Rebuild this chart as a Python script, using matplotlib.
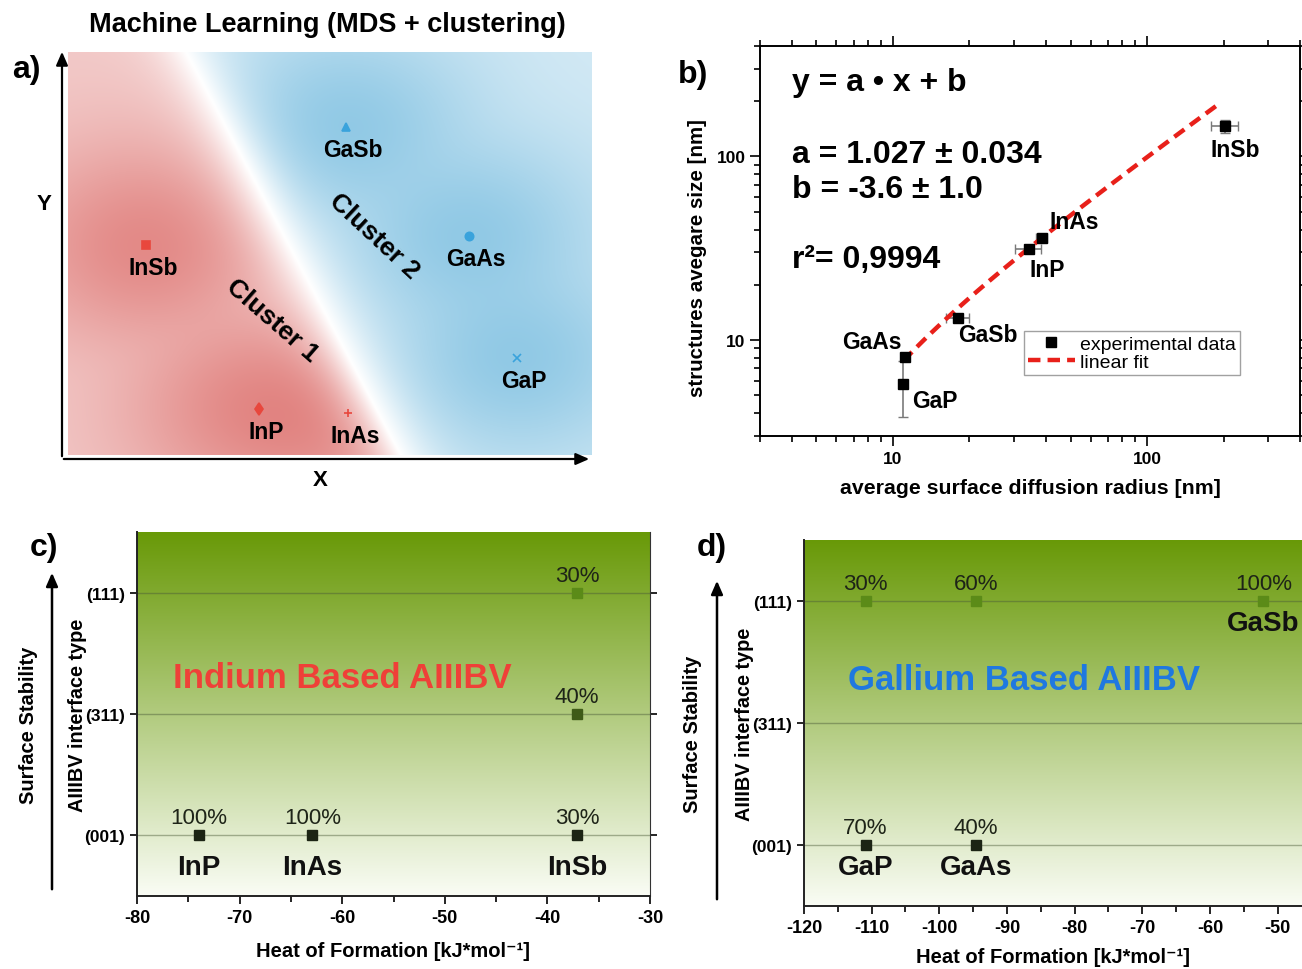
import numpy as np
import matplotlib
matplotlib.use("Agg")
from matplotlib import pyplot as plt
from matplotlib.ticker import FixedLocator, NullFormatter, MultipleLocator

plt.rcParams['font.family'] = ['Liberation Sans', 'DejaVu Sans']

# ---- panel a: MDS map
compounds = ["InSb", "InP", "InAs", "GaSb", "GaAs", "GaP"]
mds_x = [1.49, 3.65, 5.34, 5.31, 7.65, 8.57]
mds_y = [5.21, 1.14, 1.04, 8.14, 5.43, 2.41]
cluster = [1, 1, 1, 2, 2, 2]
mds_markers = ["s", "d", "+", "^", "o", "x"]
# linear decision boundary  x + w*y = c  (cluster 2 on the positive side)
boundary_w, boundary_c = 0.41, 6.35

# ---- panel b: size vs diffusion radius
b_names = ["GaP", "GaAs", "GaSb", "InP", "InAs", "InSb"]
diff_radius = [10.95, 11.15, 18.1, 34.2, 38.5, 203.0]
radius_err = [0.0, 0.0, 1.9, 3.9, 2.0, 25.0]
struct_size = [5.75, 8.07, 13.2, 31.4, 36.1, 146.0]
size_err = [1.95, 0.0, 0.0, 0.0, 0.0, 12.0]
fit_a, fit_b = 1.027, -3.6
fit_range = [11.0, 195.0]

# ---- panels c, d: interface type vs heat of formation
planes = ["(001)", "(311)", "(111)"]
in_names = ["InP", "InAs", "InSb"]
in_heat = [-74.0, -62.9, -37.1]
in_share = {"InP": [100, None, None], "InAs": [100, None, None], "InSb": [30, 40, 30]}
ga_names = ["GaP", "GaAs", "GaSb"]
ga_heat = [-110.9, -94.6, -52.1]
ga_share = {"GaP": [70, None, 30], "GaAs": [40, None, 60], "GaSb": [None, None, 100]}

W, H = 1302, 970
fig = plt.figure(figsize=(W / 100, H / 100), dpi=100)


def rect(x0, y0, x1, y1):
    # pixel box -> figure fraction rect
    return [x0 / W, 1 - y1 / H, (x1 - x0) / W, (y1 - y0) / H]


def fx(px):
    return px / W


def fy(py):
    return 1 - py / H


# ================= a) =================
ax_a = fig.add_axes(rect(68, 53, 592, 456))
gx, gy = np.meshgrid(np.linspace(0, 10, 400), np.linspace(0, 10, 400))
dec = gx + boundary_w * gy - boundary_c
mx = np.array(mds_x)
my = np.array(mds_y)
cl = np.array(cluster)


def density(sel, s=1.9, p=3.0):
    # smooth maximum of the gaussian kernels of one cluster
    k = np.zeros_like(gx)
    for x0, y0 in zip(mx[sel], my[sel]):
        k += np.exp(-((gx - x0) ** 2 + (gy - y0) ** 2) / (2 * s ** 2)) ** p
    return k ** (1 / p)


k_red = density(cl == 1)
k_blue = density(cl == 2)
edge = np.tanh(np.abs(dec) / 0.8)
red_full = np.array([0.89, 0.54, 0.53])
blue_full = np.array([0.57, 0.79, 0.90])
t_red = edge * (0.45 + 0.55 * k_red)
t_blue = edge * (0.40 + 0.60 * k_blue)
img = np.ones(gx.shape + (3,))
is_red = dec < 0
for c in range(3):
    img[..., c] = np.where(is_red, 1 - t_red * (1 - red_full[c]),
                           1 - t_blue * (1 - blue_full[c]))
ax_a.imshow(img, extent=(0, 10, 0, 10), origin="lower", aspect="auto",
            interpolation="bilinear")
for name, x, y, m, c in zip(compounds, mds_x, mds_y, mds_markers, cluster):
    col = "#e8473d" if c == 1 else "#3aa3dc"
    ax_a.plot(x, y, marker=m, color=col, markersize=6, mew=1.2, ls="none")
    ax_a.annotate(name, (x, y), xytext=(5, -16), textcoords="offset points",
                  ha="center", va="center", fontsize=16.5, fontweight="bold")
ax_a.text(3.9, 3.35, "Cluster 1", rotation=-41, ha="center", va="center",
          fontsize=19, fontweight="bold")
ax_a.text(5.85, 5.45, "Cluster 2", rotation=-43, ha="center", va="center",
          fontsize=19, fontweight="bold")
ax_a.set_xlim(0, 10)
ax_a.set_ylim(0, 10)
ax_a.axis("off")
fig.add_artist(matplotlib.patches.FancyArrowPatch(
    (fx(62), fy(460)), (fx(62), fy(50)), transform=fig.transFigure,
    arrowstyle="-|>,head_length=8,head_width=3.5", color="k", lw=1.6))
fig.add_artist(matplotlib.patches.FancyArrowPatch(
    (fx(61), fy(460)), (fx(592), fy(460)), transform=fig.transFigure,
    arrowstyle="-|>,head_length=8,head_width=3.5", color="k", lw=1.6))
fig.text(fx(44), fy(204), "Y", ha="center", va="center", fontsize=16, fontweight="bold")
fig.text(fx(320), fy(481), "X", ha="center", va="center", fontsize=16, fontweight="bold")
fig.text(fx(327), fy(25), "Machine Learning (MDS + clustering)", ha="center",
         va="center", fontsize=19.5, fontweight="bold")
fig.text(fx(26), fy(70), "a)", ha="center", va="center", fontsize=23, fontweight="bold")

# ================= b) =================
ax_b = fig.add_axes(rect(760, 47, 1300, 437))
ax_b.set_xscale("log")
ax_b.set_yscale("log")
ax_b.errorbar(diff_radius, struct_size, xerr=radius_err, yerr=size_err, fmt="none",
              ecolor="#7a7a7a", elinewidth=1.2, capsize=3.5, zorder=2)
ax_b.plot(diff_radius, struct_size, "s", color="k", markersize=6.5, zorder=4,
          label="experimental data")
fx_line = np.logspace(np.log10(fit_range[0]), np.log10(fit_range[1]), 100)
ax_b.plot(fx_line, fit_a * fx_line + fit_b, color="#e8201a", lw=3.2,
          dashes=(2.8, 1.6), zorder=3, label="linear fit")
b_offsets = {"GaP": (7, -12, "left"), "GaAs": (-2, 11, "right"), "GaSb": (0, -12, "left"),
             "InP": (1, -15, "left"), "InAs": (6, 12, "left"), "InSb": (7, -17, "center")}
for name, x, y in zip(b_names, diff_radius, struct_size):
    dx, dy, ha = b_offsets[name]
    ax_b.annotate(name, (x, y), xytext=(dx, dy), textcoords="offset points",
                  ha=ha, va="center", fontsize=16.5, fontweight="bold")
ax_b.set_xlim(3, 400)
ax_b.set_ylim(3, 400)
ax_b.tick_params(which="both", direction="out", top=True, right=True,
                 labelsize=12.5, width=1.2)
ax_b.tick_params(which="major", length=7)
ax_b.tick_params(which="minor", length=4)
ax_b.xaxis.set_major_locator(FixedLocator([10, 100]))
ax_b.yaxis.set_major_locator(FixedLocator([10, 100]))
ax_b.set_xticklabels(["10", "100"], fontweight="bold")
ax_b.set_yticklabels(["10", "100"], fontweight="bold")
ax_b.xaxis.set_minor_formatter(NullFormatter())
ax_b.yaxis.set_minor_formatter(NullFormatter())
for sp in ax_b.spines.values():
    sp.set_linewidth(1.4)
ax_b.set_xlabel("average surface diffusion radius [nm]", fontsize=15.3,
                fontweight="bold", labelpad=9)
ax_b.set_ylabel("structures avegare size [nm]", fontsize=14.8, fontweight="bold")
ax_b.yaxis.set_label_coords(-0.098, 0.46)
ax_b.text(0.059, 0.908, "y = a \u2022 x + b", transform=ax_b.transAxes, va="center",
          fontsize=23, fontweight="bold")
ax_b.text(0.059, 0.723, "a = 1.027 \u00b1 0.034", transform=ax_b.transAxes,
          va="center", fontsize=23, fontweight="bold")
ax_b.text(0.059, 0.633, "b = -3.6 \u00b1 1.0", transform=ax_b.transAxes,
          va="center", fontsize=23, fontweight="bold")
ax_b.text(0.059, 0.454, "r\u00b2= 0,9994", transform=ax_b.transAxes,
          va="center", fontsize=23, fontweight="bold")
leg = ax_b.legend(loc="lower left", bbox_to_anchor=(0.489, 0.156), fontsize=14,
                  frameon=True, fancybox=False, handlelength=2.4, borderpad=0.2,
                  labelspacing=0.05, handletextpad=0.3, borderaxespad=0)
leg.get_frame().set_edgecolor("#8a8a8a")
leg.get_frame().set_linewidth(1.0)
fig.text(fx(693), fy(75), "b)", ha="center", va="center", fontsize=23, fontweight="bold")

# ================= c), d) =================
row_colors = ["#1c2414", "#3f5b17", "#5b8b18"]


def stability_panel(box, names, heat, share, xlim, xticks, title, title_col,
                    title_pos, label_dy, arrow_x, letter_xy, show_right, xpad):
    ax = fig.add_axes(rect(*box))
    grad = np.linspace(0, 1, 256)[:, None]
    top = np.array([0.41, 0.60, 0.03])
    bot = np.array([0.98, 0.99, 0.96])
    col = bot[None, None, :] * (1 - grad[..., None]) + top[None, None, :] * grad[..., None]
    ax.imshow(col, extent=(0, 1, 0, 1), origin="lower", aspect="auto",
              transform=ax.transAxes, zorder=0)
    for k in range(len(planes)):
        ax.axhline(k, color="#4a5a38", lw=1.0, alpha=0.45, zorder=1)
    for name, x in zip(names, heat):
        for k, pct in enumerate(share[name]):
            if pct is None:
                continue
            ax.plot(x, k, "s", color=row_colors[k], markersize=7.5, zorder=3)
            ax.annotate(f"{pct}%", (x, k), xytext=(0, 12.5), textcoords="offset points",
                        ha="center", va="center", fontsize=16, color="#1e2418")
        k_low = min(k for k, p in enumerate(share[name]) if p is not None)
        ax.annotate(name, (x, k_low), xytext=(0, label_dy), textcoords="offset points",
                    ha="center", va="center", fontsize=20, fontweight="bold",
                    color="#111")
    ax.text(title_pos[0], title_pos[1], title, transform=ax.transAxes, ha="center",
            va="center", fontsize=25, fontweight="bold", color=title_col)
    ax.set_xlim(*xlim)
    ax.set_ylim(-0.5, 2.5)
    ax.set_xticks(xticks)
    ax.set_xticklabels([str(t) for t in xticks], fontweight="bold")
    ax.xaxis.set_minor_locator(MultipleLocator(5))
    ax.set_yticks(range(len(planes)))
    ax.set_yticklabels(planes, fontweight="bold", fontsize=12.5)
    ax.tick_params(axis="x", which="both", direction="out", labelsize=13, width=1.2)
    ax.tick_params(axis="x", which="major", length=6)
    ax.tick_params(axis="x", which="minor", length=4)
    ax.tick_params(axis="y", direction="out", length=5, width=1.2, right=show_right)
    for sp in ["left", "bottom"]:
        ax.spines[sp].set_linewidth(1.4)
        ax.spines[sp].set_color("#222")
    ax.spines["top"].set_visible(False)
    ax.spines["right"].set_visible(show_right)
    ax.spines["right"].set_color("#333")
    ax.set_xlabel("Heat of Formation [kJ*mol\u207b\u00b9]", fontsize=14.5,
                  fontweight="bold", labelpad=xpad)
    ax.set_ylabel("AIIIBV interface type", fontsize=14.3, fontweight="bold", labelpad=-2)
    fig.add_artist(matplotlib.patches.FancyArrowPatch(
        (fx(arrow_x), fy(box[3] - 4)), (fx(arrow_x), fy(box[1] + 38)),
        transform=fig.transFigure,
        arrowstyle="-|>,head_length=8,head_width=3.5", color="k", lw=1.8))
    fig.text(fx(arrow_x - 24), fy((box[1] + box[3]) / 2 + 10), "Surface Stability",
             rotation=90, ha="center", va="center", fontsize=14.5, fontweight="bold")
    fig.text(fx(letter_xy[0]), fy(letter_xy[1]), letter_xy[2], ha="center",
             va="center", fontsize=23, fontweight="bold")
    return ax


stability_panel((137, 533, 650, 897), in_names, in_heat, in_share, (-80, -30),
                list(range(-80, -29, 10)), "Indium Based AIIIBV", "#ef4038",
                (0.40, 0.599), -23, 52, (44, 548, "c)"), True, 11)
stability_panel((804, 541, 1302, 907), ga_names, ga_heat, ga_share, (-120, -46.4),
                list(range(-120, -49, 10)), "Gallium Based AIIIBV", "#1f78e0",
                (0.442, 0.620), -16, 717, (712, 548, "d)"), False, 8)

fig.savefig("out.png", dpi=100)
